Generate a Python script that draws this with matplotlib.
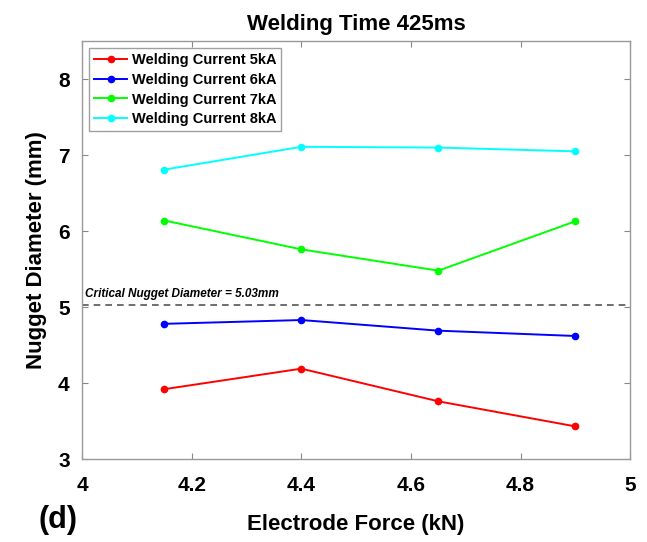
import matplotlib
matplotlib.use("Agg")
import matplotlib.pyplot as plt

force = [4.15, 4.4, 4.65, 4.9]
cur5 = [3.92, 4.19, 3.76, 3.43]
cur6 = [4.78, 4.83, 4.69, 4.62]
cur7 = [6.14, 5.76, 5.48, 6.13]
cur8 = [6.81, 7.11, 7.10, 7.05]
labels = ["Welding Current 5kA", "Welding Current 6kA", "Welding Current 7kA", "Welding Current 8kA"]
colors = ["#ff0000", "#0000ff", "#00ff00", "#00ffff"]
critical = 5.03

plt.rcParams['font.family'] = ['Liberation Sans', 'DejaVu Sans']
plt.rcParams['font.weight'] = 'bold'

fig = plt.figure(figsize=(6.47, 5.42), dpi=100)
ax = fig.add_axes([0.127, 0.153, 0.847, 0.771])

for ys, c, lab in zip([cur5, cur6, cur7, cur8], colors, labels):
    ax.plot(force, ys, color=c, marker='o', markersize=4.5, linewidth=1.4, label=lab)

ax.axhline(critical, color='#555555', linestyle='--', linewidth=1.2, dashes=(4, 3))
ax.text(4.005, critical + 0.06, "Critical Nugget Diameter = 5.03mm", fontsize=8.5,
        fontstyle='italic', fontweight='bold', va='bottom', ha='left')

ax.set_xlim(4, 5)
ax.set_ylim(3, 8.5)
ax.set_xticks([4, 4.2, 4.4, 4.6, 4.8, 5])
ax.set_xticklabels(["4", "4.2", "4.4", "4.6", "4.8", "5"])
ax.set_yticks([3, 4, 5, 6, 7, 8])
ax.tick_params(direction='in', top=True, right=True, labelsize=15, color='#888888', length=4)
ax.tick_params(axis='x', pad=12)
ax.tick_params(axis='y', pad=9)
for lbl in ax.get_xticklabels() + ax.get_yticklabels():
    lbl.set_fontweight('bold')
for s in ax.spines.values():
    s.set_color('#999999')
    s.set_linewidth(1.0)

ax.set_xlabel("Electrode Force (kN)", fontsize=16, fontweight='bold', labelpad=14)
ax.set_ylabel("Nugget Diameter (mm)", fontsize=16, fontweight='bold', labelpad=8)
ax.set_title("Welding Time 425ms", fontsize=16, fontweight='bold', pad=8)

leg = ax.legend(loc='upper left', fontsize=10.5, frameon=True, fancybox=False,
                edgecolor='#888888', borderaxespad=0.5, handlelength=2.3,
                handletextpad=0.3, labelspacing=0.4, borderpad=0.3)
leg.get_frame().set_linewidth(1.0)
for t in leg.get_texts():
    t.set_fontweight('bold')

fig.text(0.06, 0.04, "(d)", fontsize=22, fontweight='bold', ha='left', va='center')

fig.savefig("out.png", dpi=100)
